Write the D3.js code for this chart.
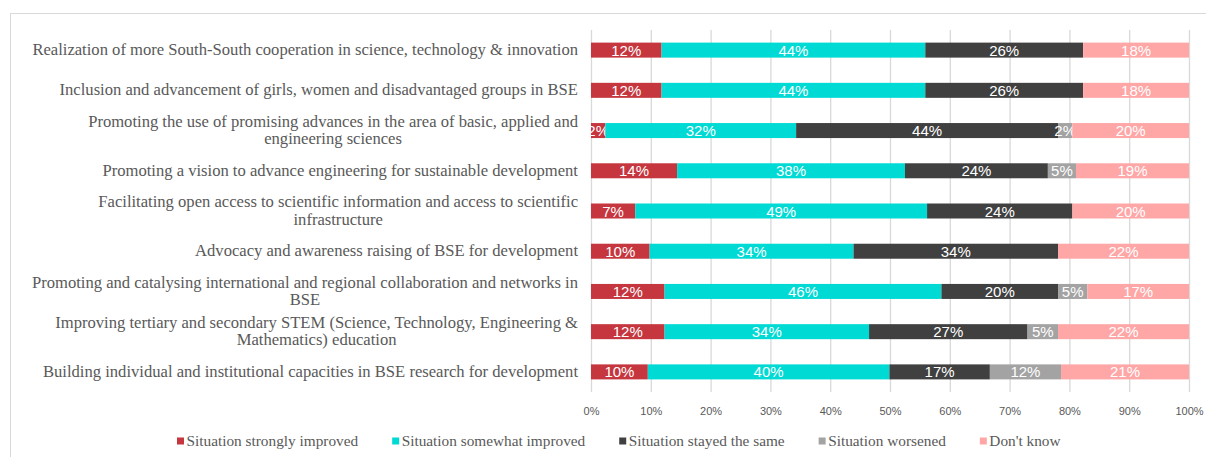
<!DOCTYPE html>
<html>
<head>
<meta charset="utf-8">
<script src="https://cdn.jsdelivr.net/npm/d3@7"></script>
<style>
	body { margin: 0; background: #fff; }
	svg { display: block; }
</style>
</head>
<body>
<svg id="svg_main" width="1206" height="457"></svg>
<script>
// categories, top to bottom; each entry is the wrapped lines of the label
var categories = [
	["Realization of more South-South cooperation in science, technology & innovation"],
	["Inclusion and advancement of girls, women and disadvantaged groups in BSE"],
	["Promoting the use of promising advances in the area of basic, applied and", "engineering sciences"],
	["Promoting a vision to advance engineering for sustainable development"],
	["Facilitating open access to scientific information and access to scientific", "infrastructure"],
	["Advocacy and awareness raising of BSE for development"],
	["Promoting and catalysing international and regional collaboration and networks in", "BSE"],
	["Improving tertiary and secondary STEM (Science, Technology,  Engineering &", "Mathematics) education"],
	["Building individual and institutional capacities in BSE research for development"]
];

var series = ["Situation strongly improved", "Situation somewhat improved", "Situation stayed the same", "Situation worsened", "Don't know"];
var colors = ["#c5363f", "#00dad4", "#404040", "#a3a3a3", "#ffa7a7"];

// shares in percent
var stronglyImproved = [11.8, 11.8, 2.4, 14.4, 7.4, 9.8, 12.3, 12.3, 9.5];
var somewhatImproved = [44.1, 44.1, 31.9, 38.1, 48.8, 34.1, 46.3, 34.2, 40.4];
var stayedSame = [26.4, 26.4, 43.8, 23.9, 24.3, 34.2, 19.5, 26.5, 16.8];
var worsened = [0, 0, 2.4, 4.7, 0, 0, 4.9, 5.1, 11.9];
var dontKnow = [17.7, 17.7, 19.5, 18.9, 19.5, 21.9, 17.0, 21.9, 21.4];

var xTicks = [0, 10, 20, 30, 40, 50, 60, 70, 80, 90, 100];

var svg = d3.select("#svg_main");
var W = 1206, H = 457;
var margin = { top: 30, right: 17, bottom: 65, left: 591 };
var plotH = H - margin.top - margin.bottom;

var rows = categories.map((c, i) => ({
	i: i,
	"0": stronglyImproved[i],
	"1": somewhatImproved[i],
	"2": stayedSame[i],
	"3": worsened[i],
	"4": dontKnow[i]
}));
var stack = d3.stack().keys(["0", "1", "2", "3", "4"])(rows);

var x = d3.scaleLinear().domain([0, 100]).range([margin.left, W - margin.right]);
var y = d3.scaleBand().domain(d3.range(categories.length))
	.range([margin.top, H - margin.bottom])
	.paddingInner(0.627).paddingOuter(0.3135);

// outer frame
svg.append("rect")
	.attr("x", 10.5).attr("y", 13.5)
	.attr("width", W).attr("height", H)
	.attr("fill", "none")
	.attr("stroke", "#d9d9d9");

// vertical grid
svg.append("g")
	.attr("class", "grid")
	.attr("transform", `translate(0, ${H - margin.bottom})`)
	.call(d3.axisBottom(x).tickValues(xTicks).tickSize(-plotH).tickFormat(""))
	.call(g => g.select(".domain").remove())
	.call(g => g.selectAll("line").attr("stroke", "#d9d9d9").attr("stroke-width", 1.3));

// tick labels
svg.append("g")
	.attr("class", "xAxis")
	.attr("transform", `translate(0, ${H - margin.bottom})`)
	.call(d3.axisBottom(x).tickValues(xTicks).tickSize(0).tickPadding(15).tickFormat(d => d + "%"))
	.call(g => g.select(".domain").remove())
	.call(g => g.selectAll("text")
		.attr("fill", "#595959")
		.attr("font-family", "'Liberation Sans', Arial, sans-serif")
		.attr("font-size", "11px"));

svg.append("clipPath")
	.attr("id", "plotclip")
	.append("rect")
	.attr("x", margin.left).attr("y", 0)
	.attr("width", W - margin.left).attr("height", H);

var bars = svg.append("g").attr("clip-path", "url(#plotclip)");

stack.forEach((layer, k) => {
	var g = bars.append("g").attr("class", "layer");
	g.selectAll("rect")
		.data(layer.filter(d => d[1] - d[0] > 0))
		.enter().append("rect")
		.attr("x", d => x(d[0]))
		.attr("y", d => y(d.data.i))
		.attr("width", d => x(d[1]) - x(d[0]))
		.attr("height", y.bandwidth())
		.attr("fill", colors[k]);
	g.selectAll("text")
		.data(layer.filter(d => d[1] - d[0] > 0))
		.enter().append("text")
		.attr("x", d => (x(d[0]) + x(d[1])) / 2)
		.attr("y", d => y(d.data.i) + y.bandwidth() / 2 + 5.5)
		.attr("text-anchor", "middle")
		.attr("fill", "#ffffff")
		.attr("font-family", "'Liberation Sans', Arial, sans-serif")
		.attr("font-size", "15px")
		.text(d => Math.round(d[1] - d[0]) + "%");
});

// category labels: block right aligned, lines centred on each other
var labelRight = 578;
var lineH = 17.5;
var labels = svg.append("g").attr("class", "labels");
categories.forEach((lines, i) => {
	var cy = y(i) + y.bandwidth() / 2;
	var t = labels.append("g");
	var texts = lines.map((line, j) => t.append("text")
		.attr("y", cy + 5 + (j - (lines.length - 1) / 2) * lineH)
		.attr("text-anchor", "middle")
		.attr("fill", "#595959")
		.attr("font-family", "'Liberation Serif', 'Times New Roman', serif")
		.attr("font-size", "16.6px")
		.text(line));
	var w = d3.max(texts, s => s.node().getComputedTextLength());
	texts.forEach(s => s.attr("x", labelRight - w / 2));
});

// legend
var legend = svg.append("g").attr("class", "legend");
var lx = 177;
series.forEach((s, k) => {
	legend.append("rect")
		.attr("x", lx).attr("y", 437.5)
		.attr("width", 7).attr("height", 7)
		.attr("fill", colors[k]);
	var t = legend.append("text")
		.attr("x", lx + 9.5).attr("y", 446)
		.attr("fill", "#595959")
		.attr("font-family", "'Liberation Serif', 'Times New Roman', serif")
		.attr("font-size", "15.3px")
		.text(s);
	lx += 9.5 + t.node().getComputedTextLength() + 34;
});
</script>
</body>
</html>
